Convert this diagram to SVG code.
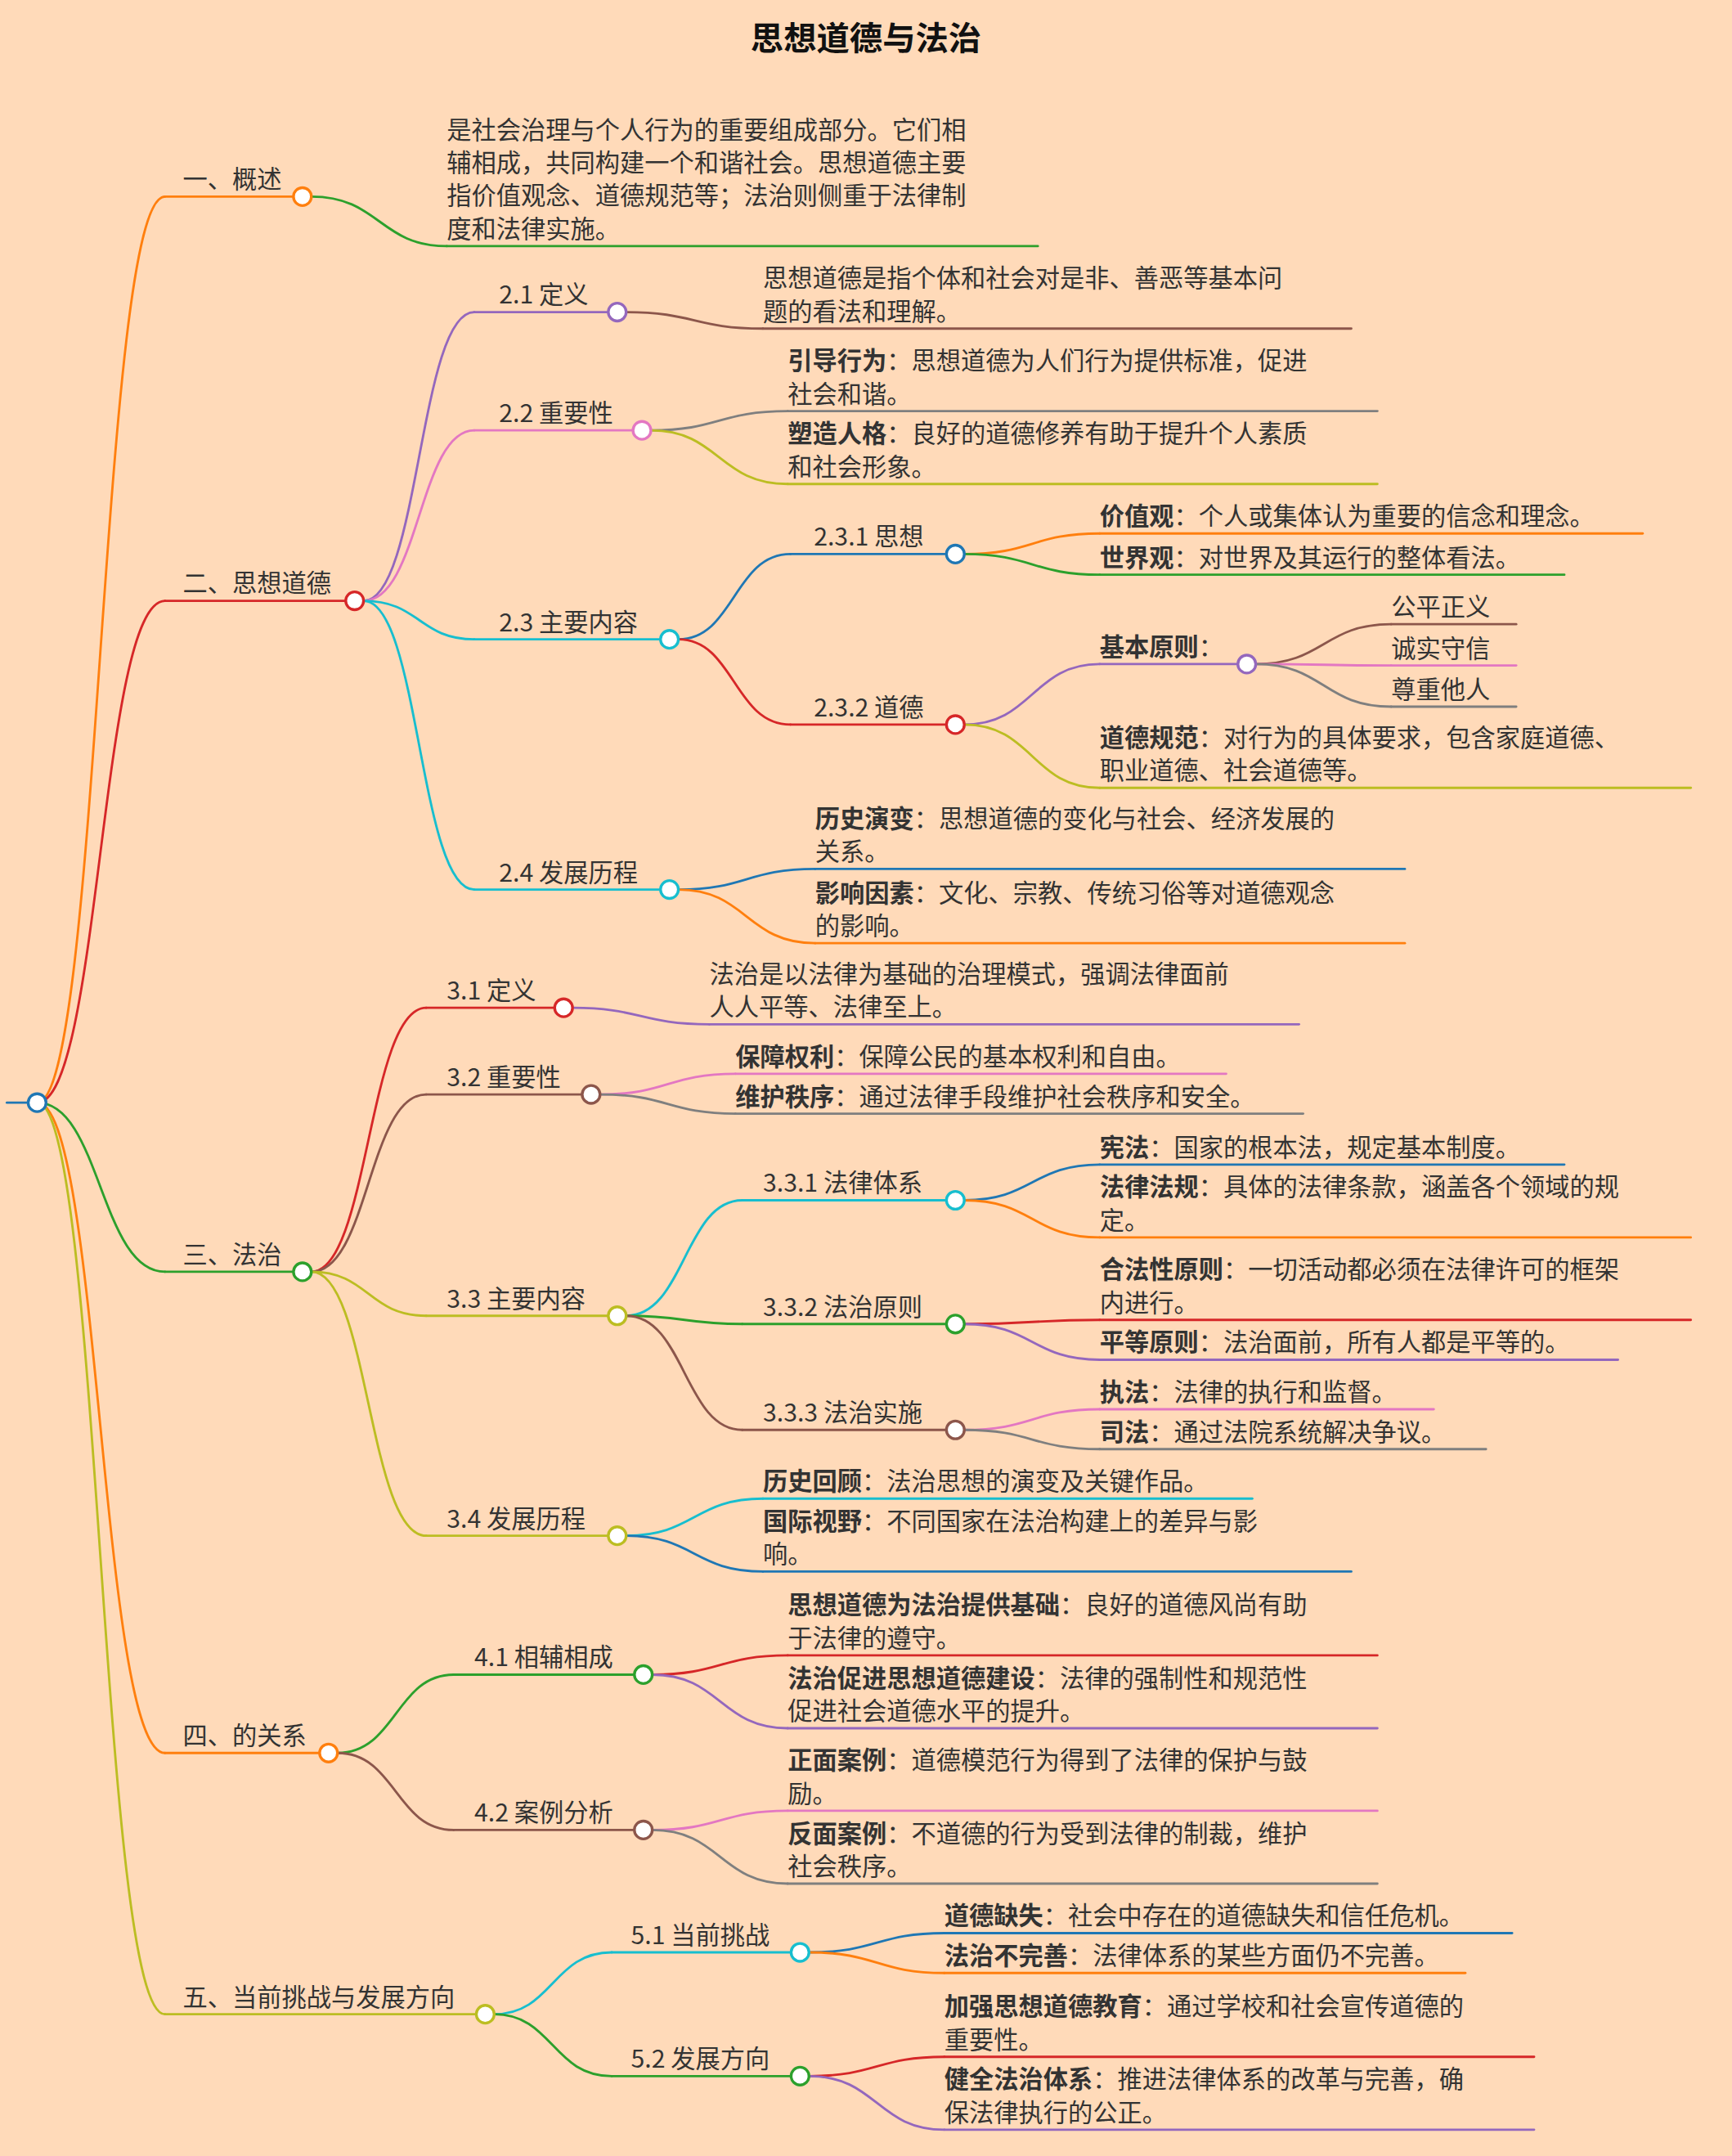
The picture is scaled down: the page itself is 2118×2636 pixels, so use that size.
<svg xmlns="http://www.w3.org/2000/svg" width="2118" height="2636" viewBox="0 0 2118 2636">
<style>
text{font-family:"Noto Sans CJK SC","Noto Sans",sans-serif;font-size:18px;fill:#333}
.ti{font-size:24px;font-weight:bold;fill:#111}
b,.b{font-weight:bold}
path,line{fill:none;stroke-width:1.7;stroke-linecap:round}
circle{fill:#fff;stroke-width:2}
.or{stroke:#ff7f0e}.gr{stroke:#2ca02c}.rd{stroke:#d62728}.pu{stroke:#9467bd}.br{stroke:#8c564b}.pk{stroke:#e377c2}.gy{stroke:#7f7f7f}.ol{stroke:#bcbd22}.cy{stroke:#17becf}.bl{stroke:#1f77b4}
</style>
<rect width="2118" height="2636" fill="#ffdab9"/>
<g transform="scale(1.681)">
<text class="ti" x="630" y="36" text-anchor="middle">思想道德与法治</text>
<g id="connectors">
<line class="bl" x1="5" y1="802" x2="27" y2="802"/>
<path class="or" d="M27 802C73 802 73 143 120 143"/>
<path class="rd" d="M27 802C73 802 73 437 120 437"/>
<path class="gr" d="M27 802C73 802 73 925 120 925"/>
<path class="or" d="M27 802C73 802 73 1275 120 1275"/>
<path class="ol" d="M27 802C73 802 73 1465 120 1465"/>
<path class="gr" d="M226.5 143C276 143 276 179 325 179"/>
<path class="pu" d="M264.5 437C305 437 305 227 345 227"/>
<path class="pk" d="M264.5 437C305 437 305 313 345 313"/>
<path class="cy" d="M264.5 437C305 437 305 465 345 465"/>
<path class="cy" d="M264.5 437C305 437 305 647 345 647"/>
<path class="br" d="M455.5 227C505 227 505 239 555 239"/>
<path class="gy" d="M473.5 313C523 313 523 299 573 299"/>
<path class="ol" d="M473.5 313C523 313 523 352 573 352"/>
<path class="bl" d="M493.5 465C534 465 534 403 575 403"/>
<path class="rd" d="M493.5 465C534 465 534 527 575 527"/>
<path class="or" d="M701.5 403C751 403 751 388 800 388"/>
<path class="gr" d="M701.5 403C751 403 751 418 800 418"/>
<path class="pu" d="M701.5 527C751 527 751 483 800 483"/>
<path class="ol" d="M701.5 527C751 527 751 573 800 573"/>
<path class="br" d="M913.5 483C963 483 963 454 1012 454"/>
<path class="pk" d="M913.5 483C963 483 963 484 1012 484"/>
<path class="gy" d="M913.5 483C963 483 963 514 1012 514"/>
<path class="bl" d="M493.5 647C543 647 543 632 593 632"/>
<path class="or" d="M493.5 647C543 647 543 686 593 686"/>
<path class="rd" d="M226.5 925C268 925 268 733 310 733"/>
<path class="br" d="M226.5 925C268 925 268 796 310 796"/>
<path class="ol" d="M226.5 925C268 925 268 957 310 957"/>
<path class="ol" d="M226.5 925C268 925 268 1117 310 1117"/>
<path class="pu" d="M416.5 733C466 733 466 745 516 745"/>
<path class="pk" d="M436.5 796C486 796 486 781 535 781"/>
<path class="gy" d="M436.5 796C486 796 486 810 535 810"/>
<path class="cy" d="M455.5 957C498 957 498 873 540 873"/>
<path class="gr" d="M455.5 957C498 957 498 963 540 963"/>
<path class="br" d="M455.5 957C498 957 498 1040 540 1040"/>
<path class="bl" d="M701.5 873C751 873 751 847 800 847"/>
<path class="or" d="M701.5 873C751 873 751 900 800 900"/>
<path class="rd" d="M701.5 963C751 963 751 960 800 960"/>
<path class="pu" d="M701.5 963C751 963 751 989 800 989"/>
<path class="pk" d="M701.5 1040C751 1040 751 1025 800 1025"/>
<path class="gy" d="M701.5 1040C751 1040 751 1054 800 1054"/>
<path class="cy" d="M455.5 1117C505 1117 505 1090 555 1090"/>
<path class="bl" d="M455.5 1117C505 1117 505 1143 555 1143"/>
<path class="gr" d="M245.5 1275C288 1275 288 1218 330 1218"/>
<path class="br" d="M245.5 1275C288 1275 288 1331 330 1331"/>
<path class="rd" d="M474.5 1218C524 1218 524 1204 573 1204"/>
<path class="pu" d="M474.5 1218C524 1218 524 1257 573 1257"/>
<path class="pk" d="M474.5 1331C524 1331 524 1317 573 1317"/>
<path class="gy" d="M474.5 1331C524 1331 524 1370 573 1370"/>
<path class="cy" d="M359.5 1465C402 1465 402 1420 445 1420"/>
<path class="gr" d="M359.5 1465C402 1465 402 1510 445 1510"/>
<path class="bl" d="M588.5 1420C638 1420 638 1406 687 1406"/>
<path class="or" d="M588.5 1420C638 1420 638 1435 687 1435"/>
<path class="rd" d="M588.5 1510C638 1510 638 1496 687 1496"/>
<path class="pu" d="M588.5 1510C638 1510 638 1549 687 1549"/>
</g>
<g id="root"><circle class="bl" cx="27" cy="802" r="6.5"/></g>

<g id="n1"><line class="or" x1="120" y1="143" x2="213.5" y2="143"/><circle class="or" cx="220" cy="143" r="6.5"/><text x="133" y="137">一、概述</text></g>
<g id="n1a"><line class="gr" x1="325" y1="179" x2="755" y2="179"/><text x="325" y="101">是社会治理与个人行为的重要组成部分。它们相</text><text x="325" y="125">辅相成，共同构建一个和谐社会。思想道德主要</text><text x="325" y="149">指价值观念、道德规范等；法治则侧重于法律制</text><text x="325" y="173">度和法律实施。</text></g>

<g id="n2"><line class="rd" x1="120" y1="437" x2="251.5" y2="437"/><circle class="rd" cx="258" cy="437" r="6.5"/><text x="133" y="431">二、思想道德</text></g>
<g id="n21"><line class="pu" x1="345" y1="227" x2="442.5" y2="227"/><circle class="pu" cx="449" cy="227" r="6.5"/><text x="363" y="221">2.1 定义</text></g>
<g id="n21a"><line class="br" x1="555" y1="239" x2="983" y2="239"/><text x="555" y="209">思想道德是指个体和社会对是非、善恶等基本问</text><text x="555" y="233">题的看法和理解。</text></g>
<g id="n22"><line class="pk" x1="345" y1="313" x2="460.5" y2="313"/><circle class="pk" cx="467" cy="313" r="6.5"/><text x="363" y="307">2.2 重要性</text></g>
<g id="n22a"><line class="gy" x1="573" y1="299" x2="1002" y2="299"/><text x="573" y="269"><tspan class="b">引导行为</tspan>：思想道德为人们行为提供标准，促进</text><text x="573" y="293">社会和谐。</text></g>
<g id="n22b"><line class="ol" x1="573" y1="352" x2="1002" y2="352"/><text x="573" y="322"><tspan class="b">塑造人格</tspan>：良好的道德修养有助于提升个人素质</text><text x="573" y="346">和社会形象。</text></g>
<g id="n23"><line class="cy" x1="345" y1="465" x2="480.5" y2="465"/><circle class="cy" cx="487" cy="465" r="6.5"/><text x="363" y="459">2.3 主要内容</text></g>
<g id="n231"><line class="bl" x1="575" y1="403" x2="688.5" y2="403"/><circle class="bl" cx="695" cy="403" r="6.5"/><text x="592" y="397">2.3.1 思想</text></g>
<g id="n231a"><line class="or" x1="800" y1="388" x2="1195" y2="388"/><text x="800" y="382"><tspan class="b">价值观</tspan>：个人或集体认为重要的信念和理念。</text></g>
<g id="n231b"><line class="gr" x1="800" y1="418" x2="1138" y2="418"/><text x="800" y="412"><tspan class="b">世界观</tspan>：对世界及其运行的整体看法。</text></g>
<g id="n232"><line class="rd" x1="575" y1="527" x2="688.5" y2="527"/><circle class="rd" cx="695" cy="527" r="6.5"/><text x="592" y="521">2.3.2 道德</text></g>
<g id="n232a"><line class="pu" x1="800" y1="483" x2="900.5" y2="483"/><circle class="pu" cx="907" cy="483" r="6.5"/><text x="800" y="477"><tspan class="b">基本原则</tspan>：</text></g>
<g id="n232a1"><line class="br" x1="1012" y1="454" x2="1103" y2="454"/><text x="1012" y="448">公平正义</text></g>
<g id="n232a2"><line class="pk" x1="1012" y1="484" x2="1103" y2="484"/><text x="1012" y="478">诚实守信</text></g>
<g id="n232a3"><line class="gy" x1="1012" y1="514" x2="1103" y2="514"/><text x="1012" y="508">尊重他人</text></g>
<g id="n232b"><line class="ol" x1="800" y1="573" x2="1230" y2="573"/><text x="800" y="543"><tspan class="b">道德规范</tspan>：对行为的具体要求，包含家庭道德、</text><text x="800" y="567">职业道德、社会道德等。</text></g>
<g id="n24"><line class="cy" x1="345" y1="647" x2="480.5" y2="647"/><circle class="cy" cx="487" cy="647" r="6.5"/><text x="363" y="641">2.4 发展历程</text></g>
<g id="n24a"><line class="bl" x1="593" y1="632" x2="1022" y2="632"/><text x="593" y="602"><tspan class="b">历史演变</tspan>：思想道德的变化与社会、经济发展的</text><text x="593" y="626">关系。</text></g>
<g id="n24b"><line class="or" x1="593" y1="686" x2="1022" y2="686"/><text x="593" y="656"><tspan class="b">影响因素</tspan>：文化、宗教、传统习俗等对道德观念</text><text x="593" y="680">的影响。</text></g>

<g id="n3"><line class="gr" x1="120" y1="925" x2="213.5" y2="925"/><circle class="gr" cx="220" cy="925" r="6.5"/><text x="133" y="919">三、法治</text></g>
<g id="n31"><line class="rd" x1="310" y1="733" x2="403.5" y2="733"/><circle class="rd" cx="410" cy="733" r="6.5"/><text x="325" y="727">3.1 定义</text></g>
<g id="n31a"><line class="pu" x1="516" y1="745" x2="945" y2="745"/><text x="516" y="715">法治是以法律为基础的治理模式，强调法律面前</text><text x="516" y="739">人人平等、法律至上。</text></g>
<g id="n32"><line class="br" x1="310" y1="796" x2="423.5" y2="796"/><circle class="br" cx="430" cy="796" r="6.5"/><text x="325" y="790">3.2 重要性</text></g>
<g id="n32a"><line class="pk" x1="535" y1="781" x2="892" y2="781"/><text x="535" y="775"><tspan class="b">保障权利</tspan>：保障公民的基本权利和自由。</text></g>
<g id="n32b"><line class="gy" x1="535" y1="810" x2="948" y2="810"/><text x="535" y="804"><tspan class="b">维护秩序</tspan>：通过法律手段维护社会秩序和安全。</text></g>
<g id="n33"><line class="ol" x1="310" y1="957" x2="442.5" y2="957"/><circle class="ol" cx="449" cy="957" r="6.5"/><text x="325" y="951">3.3 主要内容</text></g>
<g id="n331"><line class="cy" x1="540" y1="873" x2="688.5" y2="873"/><circle class="cy" cx="695" cy="873" r="6.5"/><text x="555" y="867">3.3.1 法律体系</text></g>
<g id="n331a"><line class="bl" x1="800" y1="847" x2="1138" y2="847"/><text x="800" y="841"><tspan class="b">宪法</tspan>：国家的根本法，规定基本制度。</text></g>
<g id="n331b"><line class="or" x1="800" y1="900" x2="1230" y2="900"/><text x="800" y="870"><tspan class="b">法律法规</tspan>：具体的法律条款，涵盖各个领域的规</text><text x="800" y="894">定。</text></g>
<g id="n332"><line class="gr" x1="540" y1="963" x2="688.5" y2="963"/><circle class="gr" cx="695" cy="963" r="6.5"/><text x="555" y="957">3.3.2 法治原则</text></g>
<g id="n332a"><line class="rd" x1="800" y1="960" x2="1230" y2="960"/><text x="800" y="930"><tspan class="b">合法性原则</tspan>：一切活动都必须在法律许可的框架</text><text x="800" y="954">内进行。</text></g>
<g id="n332b"><line class="pu" x1="800" y1="989" x2="1177" y2="989"/><text x="800" y="983"><tspan class="b">平等原则</tspan>：法治面前，所有人都是平等的。</text></g>
<g id="n333"><line class="br" x1="540" y1="1040" x2="688.5" y2="1040"/><circle class="br" cx="695" cy="1040" r="6.5"/><text x="555" y="1034">3.3.3 法治实施</text></g>
<g id="n333a"><line class="pk" x1="800" y1="1025" x2="1043" y2="1025"/><text x="800" y="1019"><tspan class="b">执法</tspan>：法律的执行和监督。</text></g>
<g id="n333b"><line class="gy" x1="800" y1="1054" x2="1081" y2="1054"/><text x="800" y="1048"><tspan class="b">司法</tspan>：通过法院系统解决争议。</text></g>
<g id="n34"><line class="ol" x1="310" y1="1117" x2="442.5" y2="1117"/><circle class="ol" cx="449" cy="1117" r="6.5"/><text x="325" y="1111">3.4 发展历程</text></g>
<g id="n34a"><line class="cy" x1="555" y1="1090" x2="911" y2="1090"/><text x="555" y="1084"><tspan class="b">历史回顾</tspan>：法治思想的演变及关键作品。</text></g>
<g id="n34b"><line class="bl" x1="555" y1="1143" x2="983" y2="1143"/><text x="555" y="1113"><tspan class="b">国际视野</tspan>：不同国家在法治构建上的差异与影</text><text x="555" y="1137">响。</text></g>

<g id="n4"><line class="or" x1="120" y1="1275" x2="232.5" y2="1275"/><circle class="or" cx="239" cy="1275" r="6.5"/><text x="133" y="1269">四、的关系</text></g>
<g id="n41"><line class="gr" x1="330" y1="1218" x2="461.5" y2="1218"/><circle class="gr" cx="468" cy="1218" r="6.5"/><text x="345" y="1212">4.1 相辅相成</text></g>
<g id="n41a"><line class="rd" x1="573" y1="1204" x2="1002" y2="1204"/><text x="573" y="1174"><tspan class="b">思想道德为法治提供基础</tspan>：良好的道德风尚有助</text><text x="573" y="1198">于法律的遵守。</text></g>
<g id="n41b"><line class="pu" x1="573" y1="1257" x2="1002" y2="1257"/><text x="573" y="1227"><tspan class="b">法治促进思想道德建设</tspan>：法律的强制性和规范性</text><text x="573" y="1251">促进社会道德水平的提升。</text></g>
<g id="n42"><line class="br" x1="330" y1="1331" x2="461.5" y2="1331"/><circle class="br" cx="468" cy="1331" r="6.5"/><text x="345" y="1325">4.2 案例分析</text></g>
<g id="n42a"><line class="pk" x1="573" y1="1317" x2="1002" y2="1317"/><text x="573" y="1287"><tspan class="b">正面案例</tspan>：道德模范行为得到了法律的保护与鼓</text><text x="573" y="1311">励。</text></g>
<g id="n42b"><line class="gy" x1="573" y1="1370" x2="1002" y2="1370"/><text x="573" y="1340"><tspan class="b">反面案例</tspan>：不道德的行为受到法律的制裁，维护</text><text x="573" y="1364">社会秩序。</text></g>

<g id="n5"><line class="ol" x1="120" y1="1465" x2="346.5" y2="1465"/><circle class="ol" cx="353" cy="1465" r="6.5"/><text x="133" y="1459">五、当前挑战与发展方向</text></g>
<g id="n51"><line class="cy" x1="445" y1="1420" x2="575.5" y2="1420"/><circle class="cy" cx="582" cy="1420" r="6.5"/><text x="459" y="1414">5.1 当前挑战</text></g>
<g id="n51a"><line class="bl" x1="687" y1="1406" x2="1100" y2="1406"/><text x="687" y="1400"><tspan class="b">道德缺失</tspan>：社会中存在的道德缺失和信任危机。</text></g>
<g id="n51b"><line class="or" x1="687" y1="1435" x2="1066" y2="1435"/><text x="687" y="1429"><tspan class="b">法治不完善</tspan>：法律体系的某些方面仍不完善。</text></g>
<g id="n52"><line class="gr" x1="445" y1="1510" x2="575.5" y2="1510"/><circle class="gr" cx="582" cy="1510" r="6.5"/><text x="459" y="1504">5.2 发展方向</text></g>
<g id="n52a"><line class="rd" x1="687" y1="1496" x2="1116" y2="1496"/><text x="687" y="1466"><tspan class="b">加强思想道德教育</tspan>：通过学校和社会宣传道德的</text><text x="687" y="1490">重要性。</text></g>
<g id="n52b"><line class="pu" x1="687" y1="1549" x2="1116" y2="1549"/><text x="687" y="1519"><tspan class="b">健全法治体系</tspan>：推进法律体系的改革与完善，确</text><text x="687" y="1543">保法律执行的公正。</text></g>
</g>
</svg>
